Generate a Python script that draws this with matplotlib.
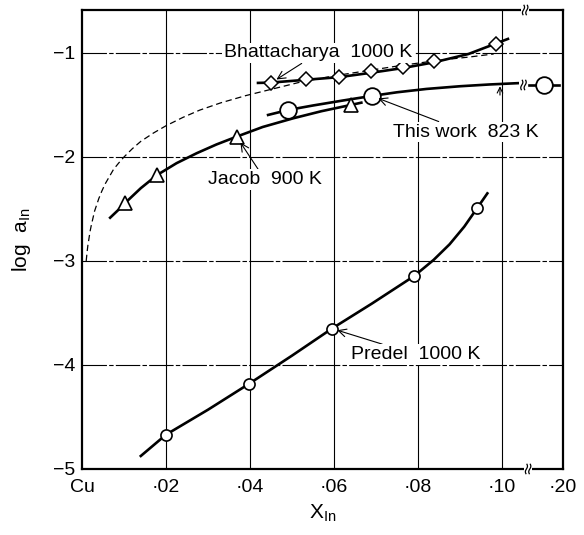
import matplotlib
matplotlib.use("Agg")
from matplotlib import pyplot as plt
from matplotlib.patches import Rectangle
import numpy as np

plt.rcParams['font.family'] = ['Liberation Sans', 'DejaVu Sans']

# Bhattacharya 1000 K (diamonds) and its curve
bh_x = [0.0449, 0.0533, 0.0613, 0.0689, 0.0764, 0.0838, 0.0986]
bh_y = [-1.291, -1.253, -1.228, -1.176, -1.132, -1.074, -0.916]
bh_line_x = [0.0419, 0.0449, 0.0533, 0.0613, 0.0689, 0.0764, 0.0838, 0.0920, 0.1014]
bh_line_y = [-1.288, -1.285, -1.258, -1.232, -1.190, -1.145, -1.090, -1.010, -0.865]

# dashed curve (Raoult line)
ra_x = [0.0010, 0.0011, 0.0012, 0.0014, 0.0016, 0.0019, 0.0022, 0.0026, 0.0030,
        0.0035, 0.0040, 0.0047, 0.0055, 0.0065, 0.0075, 0.0087, 0.010, 0.012,
        0.014, 0.017, 0.020, 0.024, 0.028, 0.033, 0.039, 0.045, 0.052, 0.060,
        0.068, 0.076, 0.085, 0.092, 0.098]
ra_y = [-3.00, -2.96, -2.92, -2.85, -2.80, -2.72, -2.66, -2.59, -2.52,
        -2.46, -2.40, -2.33, -2.26, -2.19, -2.12, -2.06, -2.00, -1.92,
        -1.85, -1.77, -1.70, -1.62, -1.55, -1.48, -1.41, -1.35, -1.28, -1.22,
        -1.17, -1.12, -1.07, -1.04, -1.01]

# This work 823 K (large circles)
tw_x = [0.0491, 0.0690]
tw_y = [-1.548, -1.413]
tw_line_x = [0.0443, 0.0491, 0.0550, 0.0620, 0.0690, 0.0750, 0.0820, 0.0900, 0.0970, 0.1040]
tw_line_y = [-1.596, -1.548, -1.505, -1.458, -1.413, -1.378, -1.346, -1.320, -1.303, -1.290]
tw_far_x = 0.20
tw_far_y = -1.308

# Jacob 900 K (triangles)
ja_x = [0.0102, 0.0179, 0.0368, 0.0640]
ja_y = [-2.445, -2.173, -1.805, -1.500]
ja_line_x = [0.0067, 0.0085, 0.0102, 0.0140, 0.0179, 0.0225, 0.0273, 0.0320,
             0.0368, 0.0430, 0.0503, 0.0570, 0.0640, 0.0665]
ja_line_y = [-2.584, -2.515, -2.445, -2.300, -2.173, -2.060, -1.964, -1.880,
             -1.805, -1.712, -1.628, -1.560, -1.500, -1.478]

# Predel 1000 K (small circles)
pr_x = [0.0200, 0.0398, 0.0595, 0.0791, 0.0941]
pr_y = [-4.67, -4.18, -3.65, -3.144, -2.49]
pr_line_x = [0.0140, 0.0200, 0.0300, 0.0398, 0.0500, 0.0595, 0.0690, 0.0791,
             0.0837, 0.0875, 0.0910, 0.0941, 0.0965]
pr_line_y = [-4.875, -4.67, -4.43, -4.18, -3.91, -3.65, -3.41, -3.144,
             -2.99, -2.84, -2.67, -2.49, -2.35]

xticks = [0.0, 0.02, 0.04, 0.06, 0.08, 0.10, 0.20]
xticklabels = ['Cu', '\u00b702', '\u00b704', '\u00b706', '\u00b708', '\u00b710', '\u00b720']
yticks = [-1, -2, -3, -4, -5]
yticklabels = ['\u22121', '\u22122', '\u22123', '\u22124', '\u22125']

XMAX = 0.1145
FAR_POS = 0.1100   # where x = 0.20 sits past the axis break


def xpos(v):
    return FAR_POS if v > 0.15 else v


fig = plt.figure(figsize=(5.84, 5.35), dpi=100)
ax = fig.add_axes([0.1404, 0.1234, 0.8236, 0.8579])
ax.set_xlim(0, XMAX)
ax.set_ylim(-5, -0.587)

# grid
for gx in xticks[1:-1]:
    ax.axvline(gx, color='black', lw=0.8, zorder=1)
for gy in yticks[:-1]:
    ax.axhline(gy, color='black', lw=0.8, dashes=(22, 2, 4, 2), zorder=1)

lw = 1.9
ax.plot(ra_x, ra_y, color='black', lw=0.9, dashes=(5, 3), zorder=2)
ax.plot(bh_line_x, bh_line_y, color='black', lw=lw, zorder=3)
ax.plot(bh_x, bh_y, 'D', ms=7, mfc='white', mec='black', mew=1.1, zorder=4)

ax.plot(tw_line_x, tw_line_y, color='black', lw=lw, zorder=3)
ax.plot([0.1063, FAR_POS + 0.0035], [tw_far_y, tw_far_y], color='black', lw=lw, zorder=3)
ax.plot(tw_x + [xpos(tw_far_x)], tw_y + [tw_far_y], 'o', ms=12, mfc='white',
        mec='black', mew=1.3, zorder=4)

ax.plot(ja_line_x, ja_line_y, color='black', lw=lw, zorder=3)
ax.plot(ja_x, ja_y, '^', ms=10, mfc='white', mec='black', mew=1.2, zorder=4)

ax.plot(pr_line_x, pr_line_y, color='black', lw=lw, zorder=3)
ax.plot(pr_x, pr_y, 'o', ms=8, mfc='white', mec='black', mew=1.2, zorder=4)

# labels with arrows
tkw = dict(fontsize=14, color='black', zorder=5,
           bbox=dict(boxstyle='square,pad=0.1', fc='white', ec='none'))
akw = dict(arrowstyle='->', lw=0.8, color='black', shrinkA=0, shrinkB=5)
ax.annotate('Bhattacharya  1000 K', xy=(bh_x[0], bh_y[0]), xytext=(0.0562, -1.0),
            ha='center', va='center', arrowprops=akw, **tkw)
ax.annotate('This work  823 K', xy=(tw_x[1], tw_y[1]), xytext=(0.0914, -1.76),
            ha='center', va='center', arrowprops=akw, **tkw)
ax.annotate('Jacob  900 K', xy=(ja_x[2], ja_y[2]), xytext=(0.0436, -2.22),
            ha='center', va='center', arrowprops=akw, **tkw)
ax.annotate('Predel  1000 K', xy=(pr_x[2], pr_y[2]), xytext=(0.0795, -3.90),
            ha='center', va='center', arrowprops=dict(akw, shrinkB=4), **tkw)
ax.annotate('', xy=(0.0995, -1.32), xytext=(0.0995, -1.405),
            arrowprops=dict(arrowstyle='->', lw=0.8, color='black',
                            shrinkA=0, shrinkB=0))

# axis breaks (white gap + two small s-strokes)
t = np.linspace(-1, 1, 20)


def draw_break(xc, yc, clip=False):
    hx = 0.00095
    ax.add_patch(Rectangle((xc - hx, yc - 0.06), 2 * hx, 0.12, fc='white',
                           ec='none', zorder=6, clip_on=clip))
    for dx in (-0.0004, 0.0004):
        ax.plot(xc + dx + 0.00025 * np.sin(t * np.pi / 1.2), yc + 0.045 * t,
                color='black', lw=0.9, zorder=7, clip_on=clip)


draw_break(0.1062, -5.0)
draw_break(0.1055, -0.587)
draw_break(0.1051, tw_far_y, clip=True)

for side in ['left', 'bottom', 'top', 'right']:
    ax.spines[side].set_linewidth(1.6)
    ax.spines[side].set_zorder(5)

ax.set_xticks([xpos(v) if v < 0.15 else XMAX for v in xticks])
ax.set_xticklabels(xticklabels)
ax.set_yticks(yticks)
ax.set_yticklabels(yticklabels)
ax.tick_params(axis='both', length=0, labelsize=14)
ax.tick_params(axis='x', pad=7)
ax.tick_params(axis='y', pad=5)

ax.set_xlabel('X$_{\\mathregular{In}}$', fontsize=15, labelpad=5)
ax.set_ylabel('log  a$_{\\mathregular{In}}$', fontsize=15, labelpad=14)

fig.savefig('out.png', dpi=100)
